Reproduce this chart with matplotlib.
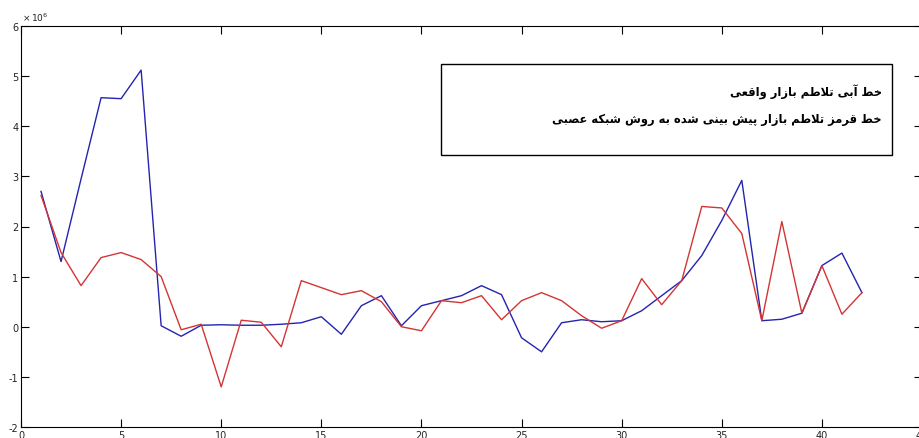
import matplotlib
matplotlib.use("Agg")
import matplotlib.pyplot as plt
from matplotlib.patches import Rectangle

plt.rcParams['axes.unicode_minus'] = False

# Market volatility: actual (blue) vs neural-network forecast (red), in units of 1e6
steps = list(range(1, 43))
actual = [2.70, 1.30, 2.95, 4.57, 4.55, 5.12, 0.02, -0.19, 0.03, 0.04,
          0.03, 0.03, 0.05, 0.08, 0.20, -0.15, 0.42, 0.62, 0.02, 0.42,
          0.52, 0.62, 0.82, 0.64, -0.22, -0.50, 0.08, 0.14, 0.10, 0.12,
          0.32, 0.62, 0.92, 1.42, 2.12, 2.92, 0.12, 0.15, 0.27, 1.22,
          1.47, 0.68]
predicted = [2.62, 1.48, 0.82, 1.38, 1.48, 1.34, 1.00, -0.06, 0.05, -1.20,
             0.13, 0.09, -0.40, 0.92, 0.78, 0.64, 0.72, 0.50, 0.00, -0.08,
             0.52, 0.48, 0.62, 0.14, 0.52, 0.68, 0.52, 0.22, -0.03, 0.12,
             0.96, 0.44, 0.92, 2.40, 2.37, 1.86, 0.12, 2.10, 0.27, 1.22,
             0.25, 0.68]
xticks = [0, 5, 10, 15, 20, 25, 30, 35, 40, 45]
yticks = [-2, -1, 0, 1, 2, 3, 4, 5, 6]
note_lines = ["خط آبی تلاطم بازار واقعی",
              "خط قرمز تلاطم بازار پیش بینی شده به روش شبکه عصبی"]

# minimal Persian shaping: presentation forms (isolated, final, initial, medial)
FORMS = {
    'ا': (0xFE8D, 0xFE8E), 'آ': (0xFE81, 0xFE82),
    'د': (0xFEA9, 0xFEAA), 'ذ': (0xFEAB, 0xFEAC),
    'ر': (0xFEAD, 0xFEAE), 'ز': (0xFEAF, 0xFEB0),
    'و': (0xFEED, 0xFEEE),
    'ب': (0xFE8F, 0xFE90, 0xFE91, 0xFE92), 'ت': (0xFE95, 0xFE96, 0xFE97, 0xFE98),
    'ث': (0xFE99, 0xFE9A, 0xFE9B, 0xFE9C), 'ج': (0xFE9D, 0xFE9E, 0xFE9F, 0xFEA0),
    'ح': (0xFEA1, 0xFEA2, 0xFEA3, 0xFEA4), 'خ': (0xFEA5, 0xFEA6, 0xFEA7, 0xFEA8),
    'س': (0xFEB1, 0xFEB2, 0xFEB3, 0xFEB4), 'ش': (0xFEB5, 0xFEB6, 0xFEB7, 0xFEB8),
    'ص': (0xFEB9, 0xFEBA, 0xFEBB, 0xFEBC), 'ض': (0xFEBD, 0xFEBE, 0xFEBF, 0xFEC0),
    'ط': (0xFEC1, 0xFEC2, 0xFEC3, 0xFEC4), 'ظ': (0xFEC5, 0xFEC6, 0xFEC7, 0xFEC8),
    'ع': (0xFEC9, 0xFECA, 0xFECB, 0xFECC), 'غ': (0xFECD, 0xFECE, 0xFECF, 0xFED0),
    'ف': (0xFED1, 0xFED2, 0xFED3, 0xFED4), 'ق': (0xFED5, 0xFED6, 0xFED7, 0xFED8),
    'ک': (0xFB8E, 0xFB8F, 0xFB90, 0xFB91), 'گ': (0xFB92, 0xFB93, 0xFB94, 0xFB95),
    'ل': (0xFEDD, 0xFEDE, 0xFEDF, 0xFEE0), 'م': (0xFEE1, 0xFEE2, 0xFEE3, 0xFEE4),
    'ن': (0xFEE5, 0xFEE6, 0xFEE7, 0xFEE8), 'ه': (0xFEE9, 0xFEEA, 0xFEEB, 0xFEEC),
    'ی': (0xFBFC, 0xFBFD, 0xFBFE, 0xFBFF), 'پ': (0xFB56, 0xFB57, 0xFB58, 0xFB59),
}
LAM_ALEF = {'ا': (0xFEFB, 0xFEFC), 'آ': (0xFEF5, 0xFEF6)}


def shape(text):
    chars = list(text)
    # merge lam + alef into one ligature token
    tokens = []
    i = 0
    while i < len(chars):
        if chars[i] == 'ل' and i + 1 < len(chars) and chars[i + 1] in LAM_ALEF:
            tokens.append(('LA', chars[i + 1]))
            i += 2
        else:
            tokens.append(('C', chars[i]))
            i += 1

    def joins_next(tok):
        return tok[0] == 'C' and tok[1] in FORMS and len(FORMS[tok[1]]) == 4

    def is_letter(tok):
        return tok[0] == 'LA' or tok[1] in FORMS

    out = []
    for k, tok in enumerate(tokens):
        prev = tokens[k - 1] if k > 0 else None
        nxt = tokens[k + 1] if k + 1 < len(tokens) else None
        from_prev = prev is not None and joins_next(prev) and is_letter(tok)
        if tok[0] == 'LA':
            out.append(chr(LAM_ALEF[tok[1]][1 if from_prev else 0]))
            continue
        c = tok[1]
        if c not in FORMS:
            out.append(c)
            continue
        f = FORMS[c]
        to_next = len(f) == 4 and nxt is not None and is_letter(nxt)
        if from_prev and to_next:
            out.append(chr(f[3]))
        elif from_prev:
            out.append(chr(f[1]))
        elif to_next:
            out.append(chr(f[2]))
        else:
            out.append(chr(f[0]))
    return ''.join(reversed(out))


W, H = 920, 439
fig = plt.figure(figsize=(W / 100, H / 100), dpi=100)
ax = fig.add_axes([21 / W, 11 / H, 901 / W, 401 / H])

ax.plot(steps, actual, color='#2424b0', linewidth=1.0)
ax.plot(steps, predicted, color='#d43434', linewidth=1.0)

ax.set_xlim(0, 45)
ax.set_ylim(-2, 6)
ax.set_xticks(xticks)
ax.set_yticks(yticks)
ax.tick_params(direction='in', length=6, width=0.8, top=True, right=True,
               labelsize=7, labelcolor='#222222', pad=2)
for s in ax.spines.values():
    s.set_linewidth(0.8)

fig.text(22 / W, 1 - 18 / H, r'$\times\,10^{6}$', fontsize=6.5, color='#222222',
         ha='left', va='center')

# annotation box
fig.add_artist(Rectangle((441 / W, 1 - 156 / H), 451 / W, 91 / H,
                         transform=fig.transFigure, facecolor='white',
                         edgecolor='black', linewidth=1.0))
fig.text(882 / W, 1 - 92 / H, shape(note_lines[0]), fontsize=8.3,
         fontweight='bold', ha='right', va='center', family=['DejaVu Sans'])
fig.text(882 / W, 1 - 120 / H, shape(note_lines[1]), fontsize=8.3,
         fontweight='bold', ha='right', va='center', family=['DejaVu Sans'])

fig.savefig('out.png', dpi=100)
